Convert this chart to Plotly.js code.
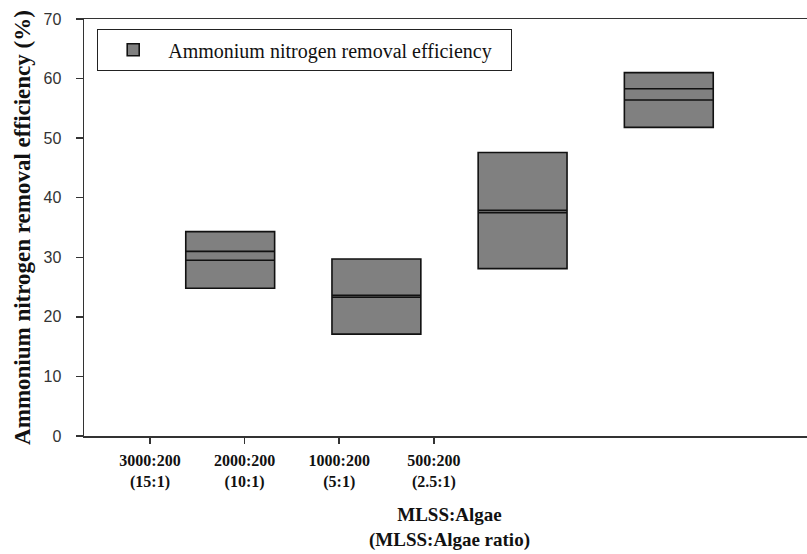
<!DOCTYPE html>
<html>
<head>
<meta charset="utf-8">
<script src="https://cdn.plot.ly/plotly-3.0.1.min.js"></script>
<style>
  html, body { margin: 0; padding: 0; overflow: hidden; background: #fff; }
  #chart { width: 830px; height: 554px; }
</style>
</head>
<body>
<div id="chart"></div>
<script>
// ---- data ----
const categories = ['3000:200', '2000:200', '1000:200', '500:200'];
const ratioLabels = ['(15:1)', '(10:1)', '(5:1)', '(2.5:1)'];
const q1Values = [24.8, 17.1, 28.1, 51.8];      // box bottom
const q3Values = [34.3, 29.7, 47.6, 61.0];      // box top
const medianValues = [29.5, 23.3, 37.5, 56.4];  // inner line 1
const meanValues = [31.0, 23.6, 37.9, 58.3];    // inner line 2
const seriesName = 'Ammonium nitrogen removal efficiency';
const yTitle = 'Ammonium nitrogen removal efficiency (%)';
const xTitle = 'MLSS:Algae<br>(MLSS:Algae ratio)';
const yTicks = [0, 10, 20, 30, 40, 50, 60, 70];

const tickText = categories.map((c, i) => c + '<br>' + ratioLabels[i]);

const serif = 'Liberation Serif, Times New Roman, serif';
const sans = 'Liberation Sans, Arial, sans-serif';

const boxTrace = {
  type: 'box',
  name: seriesName,
  x: categories,
  q1: q1Values,
  q3: q3Values,
  median: medianValues,
  lowerfence: q1Values,
  upperfence: q3Values,
  width: 0.608,
  fillcolor: '#808080',
  line: { color: '#111', width: 1.6 },
  whiskerwidth: 0,
  boxpoints: false,
  hoverinfo: 'skip',
  showlegend: true,
  xaxis: 'x', yaxis: 'y'
};

const meanTrace = {
  type: 'box',
  name: 'mean',
  x: categories,
  q1: meanValues,
  q3: meanValues,
  median: meanValues,
  lowerfence: meanValues,
  upperfence: meanValues,
  width: 0.608,
  fillcolor: 'rgba(0,0,0,0)',
  line: { color: '#111', width: 1.6 },
  whiskerwidth: 0,
  boxpoints: false,
  hoverinfo: 'skip',
  showlegend: false,
  xaxis: 'x', yaxis: 'y'
};

// carrier trace for the labelled category axis
const labelTrace = {
  type: 'scatter',
  mode: 'markers',
  x: categories,
  y: categories.map(() => null),
  marker: { opacity: 0 },
  hoverinfo: 'skip',
  showlegend: false,
  xaxis: 'x2', yaxis: 'y'
};

const layout = {
  width: 830,
  height: 554,
  margin: { l: 84, r: 14.5, t: 19, b: 118 },
  paper_bgcolor: '#fff',
  plot_bgcolor: '#fff',
  hovermode: false,
  boxmode: 'overlay',
  showlegend: true,
  legend: {
    orientation: 'h',
    x: 0.0178, y: 0.976, xanchor: 'left', yanchor: 'top',
    bgcolor: '#fff',
    bordercolor: '#222', borderwidth: 1.2,
    font: { family: serif, size: 20, color: '#111' },
    entrywidth: 337,
    entrywidthmode: 'pixels',
    itemwidth: 60
  },
  xaxis: {
    type: 'category',
    categoryorder: 'array',
    categoryarray: categories,
    range: [-1.0, 4.0],
    showline: true, mirror: true,
    linecolor: '#333', linewidth: 1.5,
    showgrid: false, zeroline: false,
    ticks: '', showticklabels: false,
    fixedrange: true
  },
  xaxis2: {
    type: 'category',
    overlaying: 'x',
    side: 'bottom',
    categoryorder: 'array',
    categoryarray: categories,
    range: [-0.697, 7.027],
    tickvals: categories,
    ticktext: tickText,
    showline: false, showgrid: false, zeroline: false,
    ticks: 'outside', ticklen: 7, tickwidth: 1.5, tickcolor: '#333',
    ticklabelstandoff: 3,
    tickfont: { family: serif, size: 16, color: '#111', weight: 'bold' },
    title: {
      text: xTitle,
      font: { family: serif, size: 19, color: '#111', weight: 'bold' },
      standoff: 17
    },
    fixedrange: true
  },
  yaxis: {
    range: [0, 70],
    tickvals: yTicks,
    showline: true, linecolor: '#333', linewidth: 1.5,
    showgrid: false, zeroline: false,
    ticks: 'outside', ticklen: 7, tickwidth: 1.5, tickcolor: '#333',
    ticklabelstandoff: 11,
    tickfont: { family: sans, size: 16, color: '#333' },
    title: {
      text: yTitle,
      font: { family: serif, size: 23, color: '#111', weight: 'bold' },
      standoff: 6
    },
    fixedrange: true
  }
};

Plotly.newPlot('chart', [boxTrace, meanTrace, labelTrace], layout, { displayModeBar: false, staticPlot: true });
</script>
</body>
</html>
